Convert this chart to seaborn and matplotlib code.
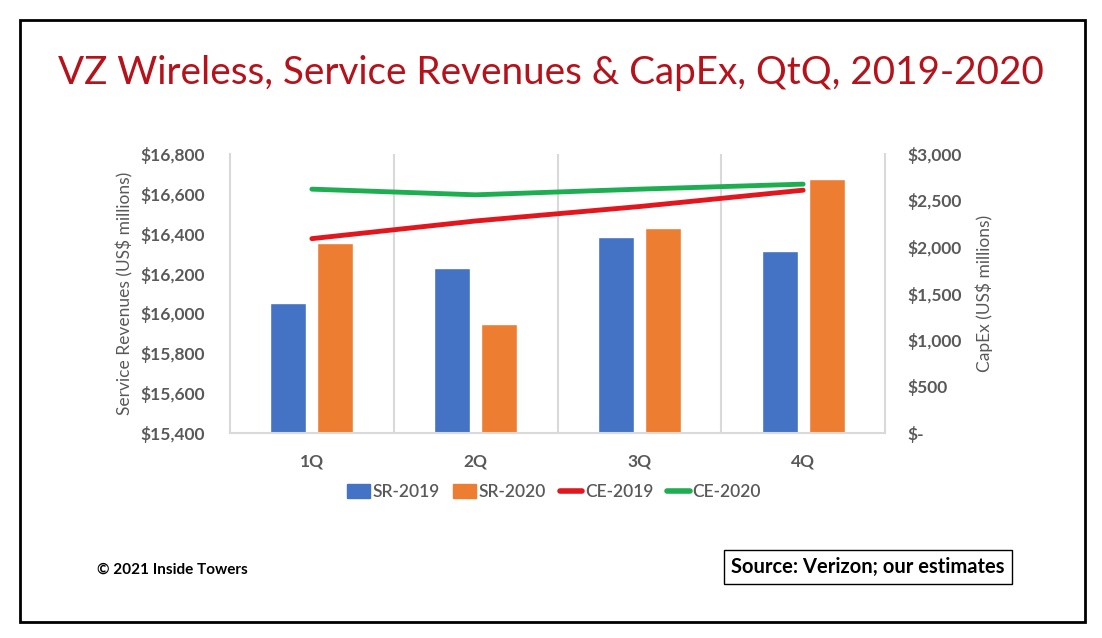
import numpy as np
import pandas as pd
import matplotlib
matplotlib.use('Agg')
import matplotlib.pyplot as plt
import seaborn as sns
from matplotlib.patches import Patch, Rectangle
from matplotlib.lines import Line2D
from matplotlib.ticker import FuncFormatter

# chart data (US$ millions)
quarters = ['1Q', '2Q', '3Q', '4Q']
sr_2019 = [16050, 16230, 16385, 16313]
sr_2020 = [16355, 15948, 16430, 16673]
ce_2019 = [2090, 2280, 2435, 2611]
ce_2020 = [2622, 2561, 2622, 2676]

left_ticks = list(range(15400, 16801, 200))
right_ticks = list(range(0, 3001, 500))

blue = '#4472C4'
orange = '#ED7D31'
red = '#E3161E'
green = '#1DAE52'
gray = '#595959'
grid_gray = '#D9D9D9'


def money(v, pos=None):
    if v == 0:
        return '$-'
    return f'${v:,.0f}'


def main():
    sns.set_style('white')
    plt.rcParams['font.family'] = ['Lato', 'DejaVu Sans']

    bars = pd.DataFrame({
        'Quarter': quarters * 2,
        'Revenue': sr_2019 + sr_2020,
        'Series': ['SR-2019'] * 4 + ['SR-2020'] * 4,
    })
    pos = np.arange(len(quarters))
    lines = pd.DataFrame({
        'pos': np.concatenate([pos, pos]),
        'CapEx': ce_2019 + ce_2020,
        'Series': ['CE-2019'] * 4 + ['CE-2020'] * 4,
    })

    fig = plt.figure(figsize=(11.02, 6.38), dpi=100)
    ax = fig.add_axes([230 / 1102, 1 - 433 / 638, 655 / 1102, 279 / 638])

    sns.barplot(data=bars, x='Quarter', y='Revenue', hue='Series',
                palette=[blue, orange], width=0.573, gap=0.232,
                saturation=1, legend=False, ax=ax)
    ax.set_ylim(15400, 16800)
    ax.set_xlim(-0.5, 3.5)
    ax.set_yticks(left_ticks)
    ax.yaxis.set_major_formatter(FuncFormatter(money))
    ax.set_xlabel('')
    ax.set_ylabel('Service Revenues (US$ millions)', fontsize=12.5,
                  color=gray, labelpad=5)

    # light vertical separators between quarters
    ax.set_xticks([0.5, 1.5, 2.5], minor=True)
    ax.grid(which='minor', axis='x', color=grid_gray, lw=1.5)
    ax.grid(which='major', visible=False)
    for side in ['left', 'right', 'bottom']:
        ax.spines[side].set_color(grid_gray)
        ax.spines[side].set_linewidth(1.5)
    ax.spines['top'].set_visible(False)
    ax.tick_params(axis='both', which='both', length=0)
    ax.tick_params(axis='y', pad=18, labelsize=12.5, labelcolor=gray)
    ax.tick_params(axis='x', pad=15, labelsize=12.5, labelcolor=gray)
    for t in ax.get_xticklabels() + ax.get_yticklabels():
        t.set_fontweight('bold')

    ax2 = ax.twinx()
    sns.lineplot(data=lines, x='pos', y='CapEx', hue='Series',
                 palette=[red, green], lw=3.5, legend=False, ax=ax2)
    for ln in ax2.lines:
        ln.set_solid_capstyle('round')
    ax2.set_ylim(0, 3000)
    ax2.set_xlim(-0.5, 3.5)
    ax2.set_yticks(right_ticks)
    ax2.yaxis.set_major_formatter(FuncFormatter(money))
    ax2.set_ylabel('CapEx (US$ millions)', fontsize=12.5, color=gray,
                   labelpad=10)
    for s in ax2.spines.values():
        s.set_visible(False)
    ax2.tick_params(axis='y', length=0, pad=16, labelsize=12.5,
                    labelcolor=gray)
    for t in ax2.get_yticklabels():
        t.set_fontweight('bold')

    handles = [
        Patch(color=blue, label='SR-2019'),
        Patch(color=orange, label='SR-2020'),
        Line2D([], [], color=red, lw=4, solid_capstyle='round', label='CE-2019'),
        Line2D([], [], color=green, lw=4, solid_capstyle='round', label='CE-2020'),
    ]
    leg = fig.legend(handles=handles, loc='center', ncol=4, frameon=False,
                     bbox_to_anchor=(554 / 1102, 1 - 492 / 638),
                     fontsize=12.5, handlelength=1.3, handleheight=0.9,
                     handletextpad=0.15, columnspacing=0.8)
    for t in leg.get_texts():
        t.set_color(gray)
        t.set_fontweight('semibold')

    fig.text(0.5, 1 - 73 / 638,
             'VZ Wireless, Service Revenues & CapEx, QtQ, 2019-2020',
             ha='center', va='center', fontsize=27.8, color='#B5121B')
    fig.text(97 / 1102, 1 - 570 / 638, '\u00a9 2021 Inside Towers',
             ha='left', va='center', fontsize=11, fontweight='bold',
             color='black')
    fig.text(868 / 1102, 1 - 567 / 638, 'Source: Verizon; our estimates',
             ha='center', va='center', fontsize=14.5, fontweight='bold',
             color='black',
             bbox=dict(boxstyle='square,pad=0.35', fc='white', ec='black', lw=1))

    # outer border of the graphic
    fig.patches.append(Rectangle((20 / 1102, 16 / 638), 1065 / 1102,
                                 602 / 638, transform=fig.transFigure,
                                 fill=False, ec='black', lw=2))

    fig.savefig('out.png', dpi=100)


if __name__ == '__main__':
    main()
